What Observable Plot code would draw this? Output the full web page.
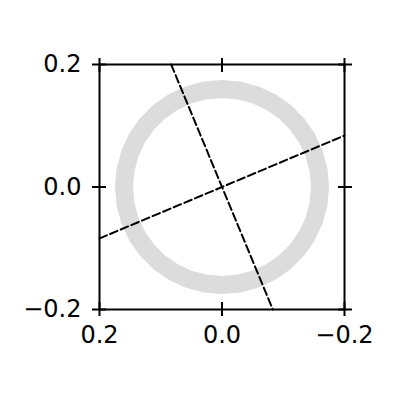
<!DOCTYPE html>
<html>
<head>
<meta charset="utf-8">
<script src="https://cdn.jsdelivr.net/npm/d3@7"></script>
<script src="https://cdn.jsdelivr.net/npm/@observablehq/plot@0.6"></script>
<style>
  html, body { margin: 0; padding: 0; background: #fff; }
  #chart svg text { font-size: 24px !important; font-family: "DejaVu Sans", sans-serif !important; }
</style>
</head>
<body>
<div id="chart"></div>
<script>
// Tick positions / labels
const xTicks = [0.2, 0.0, -0.2];
const yTicks = [-0.2, 0.0, 0.2];

// Ring of points (angle in degrees, radius in data units)
const ringRadius = 0.16;
const ringAngles = [0, 10, 20, 30, 40, 50, 60, 70, 80, 90, 100, 110, 120, 130, 140, 150, 160, 170,
                    180, 190, 200, 210, 220, 230, 240, 250, 260, 270, 280, 290, 300, 310, 320, 330, 340, 350];

// Two dashed axis lines through the origin (endpoints on the frame)
const lineA_x = [0.083, -0.083];
const lineA_y = [0.2, -0.2];
const lineB_x = [0.2, -0.2];
const lineB_y = [-0.084, 0.084];

const ring = ringAngles.map(a => ({
  x: ringRadius * Math.cos(a * Math.PI / 180),
  y: ringRadius * Math.sin(a * Math.PI / 180)
}));
const lineA = lineA_x.map((x, i) => ({x, y: lineA_y[i]}));
const lineB = lineB_x.map((x, i) => ({x, y: lineB_y[i]}));

const fmt = d3.format(".1f");
const FS = 24;

const chart = Plot.plot({
  width: 400,
  height: 400,
  marginLeft: 99,
  marginRight: 56,
  marginTop: 64,
  marginBottom: 91,
  style: {fontFamily: "DejaVu Sans", fontSize: FS + "px", background: "#fff", color: "#000"},
  x: {domain: [0.2, -0.2]},
  y: {domain: [-0.2, 0.2]},
  marks: [
    Plot.line(ring, {x: "x", y: "y", curve: "linear-closed", stroke: "#dcdcdc", strokeWidth: 18}),
    Plot.line(lineA, {x: "x", y: "y", stroke: "#000", strokeWidth: 2, strokeDasharray: "8,3.5"}),
    Plot.line(lineB, {x: "x", y: "y", stroke: "#000", strokeWidth: 2, strokeDasharray: "8,3.5"}),
    Plot.frame({stroke: "#000", strokeWidth: 2}),
    Plot.axisX(xTicks, {anchor: "bottom", tickSize: 14, dy: -7, tickPadding: 9, tickFormat: fmt, fontSize: FS, strokeWidth: 2, label: null}),
    Plot.axisX(xTicks, {anchor: "top", tickSize: 14, dy: 7, tickFormat: () => "", strokeWidth: 2, label: null}),
    Plot.axisY(yTicks, {anchor: "left", tickSize: 14, dx: 7, tickPadding: 11, tickFormat: fmt, fontSize: FS, strokeWidth: 2, label: null}),
    Plot.axisY(yTicks, {anchor: "right", tickSize: 14, dx: -7, tickFormat: () => "", strokeWidth: 2, label: null})
  ]
});
document.getElementById("chart").appendChild(chart);
</script>
</body>
</html>
